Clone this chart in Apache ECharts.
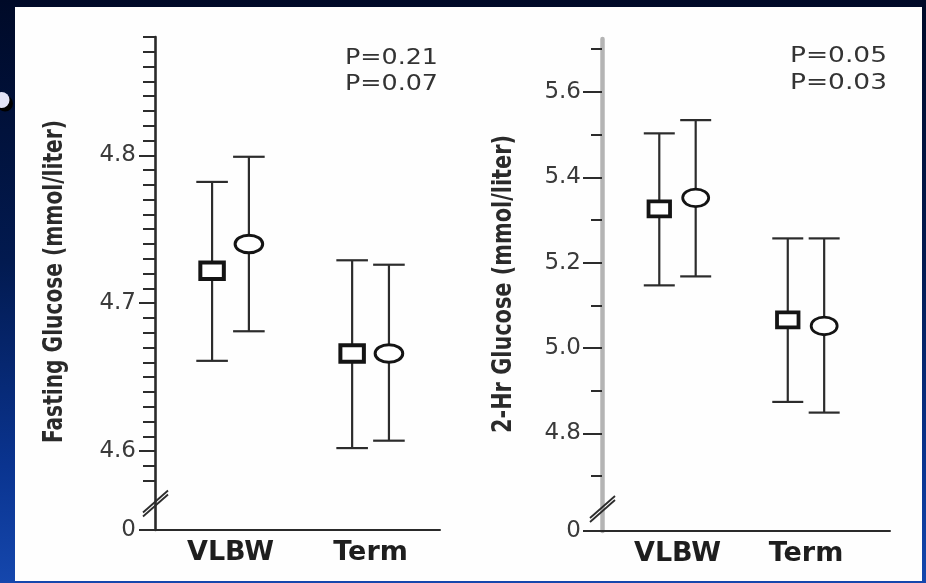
<!DOCTYPE html>
<html>
<head>
<meta charset="utf-8">
<script src="https://cdn.jsdelivr.net/npm/echarts@6/dist/echarts.min.js"></script>
<style>
html,body{margin:0;padding:0;width:926px;height:583px;overflow:hidden;
  background:linear-gradient(to bottom,#000a28 0%,#021a50 45%,#0a3490 80%,#1547ad 100%);}
#panel{position:absolute;left:15px;top:7px;width:907px;height:574px;background:#fefefe;}
#chart{position:absolute;left:0;top:0;width:926px;height:583px;}
</style>
</head>
<body>
<div id="panel"></div>
<div id="chart"></div>
<script>
// ---------------- data ----------------
const categories = ['VLBW', 'Term'];

// Fasting glucose (mmol/liter): square group and circle group
const fastingSquareMean = [4.722, 4.666];
const fastingSquareLow  = [4.661, 4.602];
const fastingSquareHigh = [4.782, 4.729];
const fastingCircleMean = [4.740, 4.666];
const fastingCircleLow  = [4.681, 4.607];
const fastingCircleHigh = [4.799, 4.726];

// 2-Hr glucose (mmol/liter)
const twoHrSquareMean = [5.326, 5.066];
const twoHrSquareLow  = [5.147, 4.874];
const twoHrSquareHigh = [5.503, 5.257];
const twoHrCircleMean = [5.352, 5.052];
const twoHrCircleLow  = [5.168, 4.849];
const twoHrCircleHigh = [5.534, 5.257];

// tick labels
const fastingMajorTicks = [4.6, 4.7, 4.8];
const fastingMinorTicks = [4.58, 4.59, 4.61, 4.62, 4.63, 4.64, 4.65, 4.66, 4.67, 4.68, 4.69,
                           4.71, 4.72, 4.73, 4.74, 4.75, 4.76, 4.77, 4.78, 4.79,
                           4.81, 4.82, 4.83, 4.84, 4.85, 4.86, 4.87, 4.88];
const twoHrMajorTicks = [4.8, 5.0, 5.2, 5.4, 5.6];
const twoHrMinorTicks = [4.7, 4.9, 5.1, 5.3, 5.5, 5.7];
const baseTickLabel = '0';

const yTitles = ['Fasting Glucose (mmol/liter)', '2-Hr Glucose (mmol/liter)'];
const pValuesFasting = ['P=0.21', 'P=0.07'];
const pValuesTwoHr = ['P=0.05', 'P=0.03'];

// ---------------- layout / style ----------------
const panels = [
  { grid: {left: 155, top: 37, width: 285, height: 493},
    yMin: 4.5466, yMax: 4.88, xMin: -0.539, xMax: 1.496,
    axisLine: {color: '#2a2a2a', width: 2.6}, majorLen: 16, minorLen: 12, labelMargin: 19,
    titlePos: {x: 55, y: 281.5, len: 323}, pPos: {x: 391.5, y: [59, 85], len: 93},
    breakValue: 4.5645,
    marks: {offset: 18.4, cap: 15.8, sqW: 23.5, sqH: 16.5, sqLW: 4, rx: 13.8, ry: 8.8, cLW: 3},
    majorTicks: fastingMajorTicks, minorTicks: fastingMinorTicks,
    square: [fastingSquareMean, fastingSquareLow, fastingSquareHigh],
    circle: [fastingCircleMean, fastingCircleLow, fastingCircleHigh],
    title: yTitles[0], pTexts: pValuesFasting },
  { grid: {left: 602, top: 39, width: 288, height: 492},
    yMin: 4.5717, yMax: 5.724, xMin: -0.5875, xMax: 1.654,
    axisLine: {color: '#b4b4b4', width: 4.5}, majorLen: 19, minorLen: 11, labelMargin: 21,
    titlePos: {x: 504.5, y: 284, len: 298}, pPos: {x: 838.5, y: [57, 84], len: 97},
    breakValue: 4.6232,
    marks: {offset: 18.2, cap: 15.5, sqW: 21.5, sqH: 15, sqLW: 3.8, rx: 13, ry: 8.8, cLW: 2.8},
    majorTicks: twoHrMajorTicks, minorTicks: twoHrMinorTicks,
    square: [twoHrSquareMean, twoHrSquareLow, twoHrSquareHigh],
    circle: [twoHrCircleMean, twoHrCircleLow, twoHrCircleHigh],
    title: yTitles[1], pTexts: pValuesTwoHr }
];

const TICK_FONT = 'DejaVu Sans';
const TITLE_FONT = "'Liberation Sans Narrow', 'DejaVu Sans Condensed', 'DejaVu Sans', sans-serif";

const chart = echarts.init(document.getElementById('chart'), null, {renderer: 'canvas'});

function renderErrorItem(shape, side, d) {
  return function (params, api) {
    const i = api.value(0);
    const m = api.coord([i, api.value(1)]);
    const lo = api.coord([i, api.value(2)]);
    const hi = api.coord([i, api.value(3)]);
    const x = m[0] + side * d.offset;
    const st = {stroke: '#2c2c2c', lineWidth: 2.2};
    const children = [
      {type: 'line', shape: {x1: x, y1: hi[1], x2: x, y2: lo[1]}, style: st},
      {type: 'line', shape: {x1: x - d.cap, y1: hi[1], x2: x + d.cap, y2: hi[1]}, style: st},
      {type: 'line', shape: {x1: x - d.cap, y1: lo[1], x2: x + d.cap, y2: lo[1]}, style: st}
    ];
    if (shape === 'square') {
      children.push({type: 'rect',
        shape: {x: x - d.sqW / 2, y: m[1] - d.sqH / 2, width: d.sqW, height: d.sqH},
        style: {fill: '#ffffff', stroke: '#141414', lineWidth: d.sqLW}});
    } else {
      children.push({type: 'ellipse',
        shape: {cx: x, cy: m[1], rx: d.rx, ry: d.ry},
        style: {fill: '#ffffff', stroke: '#141414', lineWidth: d.cLW}});
    }
    return {type: 'group', children: children};
  };
}

const grids = [], xAxes = [], yAxes = [], series = [];
panels.forEach(function (p, gi) {
  grids.push(Object.assign({outerBoundsMode: 'none', containLabel: false}, p.grid));
  xAxes.push({
    type: 'value', gridIndex: gi, min: p.xMin, max: p.xMax, position: 'bottom',
    axisLine: {show: true, onZero: false, lineStyle: {color: '#2a2a2a', width: 2}},
    axisTick: {show: false}, splitLine: {show: false},
    axisLabel: {
      customValues: categories.map(function (c, i) { return i; }),
      formatter: function (v) { return categories[Math.round(v)]; },
      fontFamily: TICK_FONT, fontWeight: 'bold', fontSize: 27, color: '#1e1e1e', margin: 9
    }
  });
  const majorVals = [p.yMin].concat(p.majorTicks);
  yAxes.push({
    type: 'value', gridIndex: gi, min: p.yMin, max: p.yMax, position: 'left',
    axisLine: {show: true, onZero: false, lineStyle: {color: p.axisLine.color, width: p.axisLine.width}},
    axisTick: {show: true, customValues: majorVals, length: p.majorLen,
      lineStyle: {color: '#2c2c2c', width: 2}},
    splitLine: {show: false},
    axisLabel: {
      customValues: majorVals, margin: p.labelMargin,
      formatter: function (v) { return Math.abs(v - p.yMin) < 1e-6 ? baseTickLabel : v.toFixed(1); },
      fontFamily: TICK_FONT, fontSize: 23, color: '#3a3a3a'
    }
  });
  yAxes.push({
    type: 'value', gridIndex: gi, min: p.yMin, max: p.yMax, position: 'left', offset: 0,
    axisLine: {show: false, onZero: false},
    axisTick: {show: true, customValues: p.minorTicks, length: p.minorLen,
      lineStyle: {color: '#2c2c2c', width: 2}},
    axisLabel: {show: false}, splitLine: {show: false}
  });
  [['square', -1, p.square], ['circle', 1, p.circle]].forEach(function (s) {
    const arr = s[2];
    series.push({
      type: 'custom', xAxisIndex: gi, yAxisIndex: gi * 2,
      renderItem: renderErrorItem(s[0], s[1], p.marks),
      encode: {x: 0, y: [1, 2, 3]},
      data: categories.map(function (c, i) { return [i, arr[0][i], arr[1][i], arr[2][i]]; }),
      z: 5
    });
  });
});

chart.setOption({
  backgroundColor: 'transparent',
  animation: false,
  grid: grids, xAxis: xAxes, yAxis: yAxes, series: series
});

// ---------------- annotations ----------------
const ctx = document.createElement('canvas').getContext('2d');
function measure(text, font) { ctx.font = font; return ctx.measureText(text).width; }

const graphics = [];
// slide bullet
graphics.push({type: 'circle', shape: {cx: 5, cy: 103.5, r: 8}, style: {fill: '#000000'}, z: 1});
graphics.push({type: 'circle', shape: {cx: 1.5, cy: 100, r: 8}, style: {fill: '#e2e3f6'}, z: 2});

panels.forEach(function (p, gi) {
  // rotated axis title, fitted to reference length
  const tSize = 26, tWeight = 'bold';
  const tw = measure(p.title, tWeight + ' ' + tSize + 'px ' + TITLE_FONT);
  graphics.push({
    type: 'text', x: p.titlePos.x, y: p.titlePos.y, rotation: Math.PI / 2,
    scaleX: p.titlePos.len / tw,
    style: {text: p.title, fontSize: tSize, fontWeight: tWeight, fontFamily: TITLE_FONT,
      fill: '#2a2a2a', align: 'center', verticalAlign: 'middle',
      textAlign: 'center', textVerticalAlign: 'middle'}
  });
  // P values
  p.pTexts.forEach(function (t, k) {
    const w = measure(t, '21px ' + TICK_FONT);
    graphics.push({
      type: 'text', x: p.pPos.x, y: p.pPos.y[k], scaleX: p.pPos.len / w,
      style: {text: t, fontSize: 21, fontFamily: TICK_FONT, fill: '#333333',
        align: 'center', verticalAlign: 'middle', textAlign: 'center', textVerticalAlign: 'middle'}
    });
  });
  // axis break marks
  const c = chart.convertToPixel({xAxisIndex: gi, yAxisIndex: gi * 2}, [p.xMin, p.breakValue]);
  [-2, 2].forEach(function (dy) {
    graphics.push({
      type: 'line',
      shape: {x1: c[0] - 12, y1: c[1] + dy + 11, x2: c[0] + 13, y2: c[1] + dy - 11},
      style: {stroke: '#2c2c2c', lineWidth: 1.8}, z: 10
    });
  });
});

chart.setOption({graphic: graphics});
</script>
</body>
</html>
